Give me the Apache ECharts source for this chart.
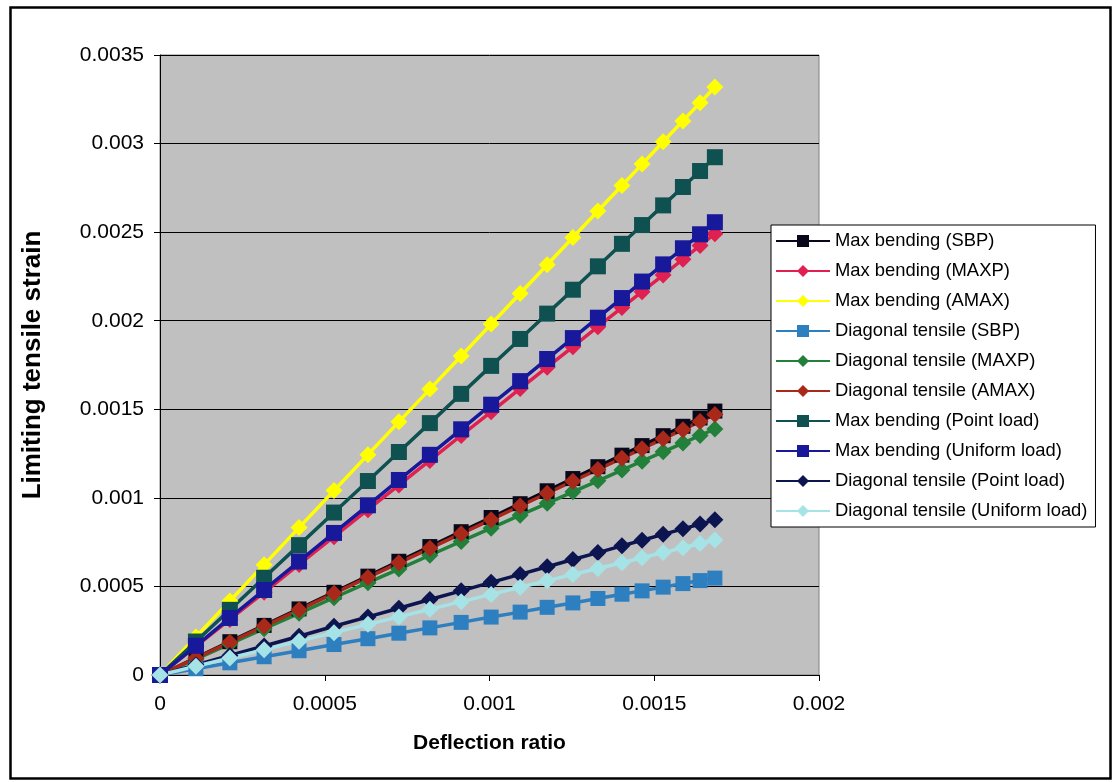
<!DOCTYPE html>
<html>
<head>
<meta charset="utf-8">
<script src="https://cdn.jsdelivr.net/npm/echarts@6/dist/echarts.min.js"></script>
<style>
  html, body { margin: 0; padding: 0; background: #ffffff; }
  #chart { width: 1113px; height: 782px; }
</style>
</head>
<body>
<div id="chart"></div>
<script>
// Deflection ratio at each computed point
const deflection = [0, 0.000109, 0.000212, 0.000316, 0.000422, 0.000528, 0.000631, 0.000725, 0.000819, 0.000914,
  0.001005, 0.001093, 0.001175, 0.001253, 0.001329, 0.001402, 0.001463, 0.001527, 0.001587, 0.001639, 0.001684];

// Limiting tensile strain for each criterion
const maxBendingSBP = [0, 0.0000965, 0.000188, 0.000280, 0.000373, 0.000467, 0.000558, 0.000642, 0.000725, 0.000809,
  0.000889, 0.000967, 0.001040, 0.001109, 0.001176, 0.001241, 0.001295, 0.001351, 0.001404, 0.001451, 0.001490];
const maxBendingMAXP = [0, 0.000161, 0.000314, 0.000467, 0.000624, 0.000781, 0.000933, 0.001072, 0.001211, 0.001352,
  0.001486, 0.001617, 0.001738, 0.001853, 0.001966, 0.002074, 0.002164, 0.002258, 0.002347, 0.002424, 0.002491];
const maxBendingAMAX = [0, 0.000215, 0.000418, 0.000623, 0.000832, 0.001041, 0.001244, 0.001429, 0.001614, 0.001801,
  0.001981, 0.002154, 0.002316, 0.002470, 0.002619, 0.002763, 0.002884, 0.003010, 0.003128, 0.003230, 0.003319];
const diagonalSBP = [0, 0.0000354, 0.0000689, 0.000103, 0.000137, 0.000172, 0.000205, 0.000236, 0.000266, 0.000297,
  0.000327, 0.000355, 0.000382, 0.000407, 0.000432, 0.000456, 0.000475, 0.000496, 0.000516, 0.000533, 0.000547];
const diagonalMAXP = [0, 0.0000899, 0.000175, 0.000261, 0.000348, 0.000436, 0.000521, 0.000598, 0.000676, 0.000754,
  0.000829, 0.000902, 0.000969, 0.001034, 0.001096, 0.001157, 0.001207, 0.001260, 0.001309, 0.001352, 0.001389];
const diagonalAMAX = [0, 0.0000952, 0.000185, 0.000276, 0.000368, 0.000461, 0.000551, 0.000633, 0.000715, 0.000798,
  0.000877, 0.000954, 0.001026, 0.001094, 0.001160, 0.001224, 0.001277, 0.001333, 0.001385, 0.001431, 0.001470];
const maxBendingPoint = [0, 0.000189, 0.000368, 0.000549, 0.000733, 0.000917, 0.001095, 0.001259, 0.001422, 0.001587,
  0.001745, 0.001897, 0.002040, 0.002175, 0.002307, 0.002434, 0.002540, 0.002651, 0.002755, 0.002845, 0.002923];
const maxBendingUniform = [0, 0.000165, 0.000322, 0.000480, 0.000641, 0.000802, 0.000958, 0.001101, 0.001243, 0.001387,
  0.001526, 0.001659, 0.001784, 0.001902, 0.002017, 0.002128, 0.002221, 0.002318, 0.002409, 0.002488, 0.002556];
const diagonalPoint = [0, 0.0000567, 0.000110, 0.000164, 0.000219, 0.000275, 0.000328, 0.000377, 0.000426, 0.000475,
  0.000523, 0.000568, 0.000611, 0.000652, 0.000691, 0.000729, 0.000761, 0.000794, 0.000825, 0.000852, 0.000876];
const diagonalUniform = [0, 0.0000493, 0.0000959, 0.000143, 0.000191, 0.000239, 0.000286, 0.000328, 0.000371, 0.000414,
  0.000455, 0.000495, 0.000532, 0.000567, 0.000601, 0.000634, 0.000662, 0.000691, 0.000718, 0.000742, 0.000762];

const seriesNames = [
  'Max bending (SBP)', 'Max bending (MAXP)', 'Max bending (AMAX)',
  'Diagonal tensile (SBP)', 'Diagonal tensile (MAXP)', 'Diagonal tensile (AMAX)',
  'Max bending (Point load)', 'Max bending (Uniform load)',
  'Diagonal tensile (Point load)', 'Diagonal tensile (Uniform load)'
];
const seriesValues = [
  maxBendingSBP, maxBendingMAXP, maxBendingAMAX,
  diagonalSBP, diagonalMAXP, diagonalAMAX,
  maxBendingPoint, maxBendingUniform,
  diagonalPoint, diagonalUniform
];

// Per-series look: colour and marker
const styles = [
  { color: '#08081a', symbol: 'rect', size: 15 },
  { color: '#e02050', symbol: 'diamond', size: 17 },
  { color: '#ffff00', symbol: 'diamond', size: 17 },
  { color: '#2e7fc0', symbol: 'rect', size: 15 },
  { color: '#22803a', symbol: 'diamond', size: 17 },
  { color: '#a8281a', symbol: 'diamond', size: 17 },
  { color: '#0f5050', symbol: 'rect', size: 16 },
  { color: '#18189a', symbol: 'rect', size: 16 },
  { color: '#0c1550', symbol: 'diamond', size: 17 },
  { color: '#a6e3e6', symbol: 'diamond', size: 17 }
];

const xTicks = { min: 0, max: 0.002, interval: 0.0005 };
const yTicks = { min: 0, max: 0.0035, interval: 0.0005 };

const fontFamily = '"Liberation Sans", Arial, sans-serif';
const fmt = v => String(+v.toFixed(5));

const chart = echarts.init(document.getElementById('chart'), null, { renderer: 'canvas' });

chart.setOption({
  backgroundColor: '#ffffff',
  animation: false,
  grid: {
    left: 160, right: 294, top: 55, bottom: 107,
    show: true,
    backgroundColor: '#c0c0c0',
    borderColor: '#808080',
    borderWidth: 1
  },
  legend: {
    orient: 'vertical',
    left: 771, top: 225,
    padding: [6, 8, 6, 4],
    itemGap: 10,
    itemWidth: 54,
    itemHeight: 15,
    backgroundColor: '#ffffff',
    borderColor: '#000000',
    borderWidth: 1,
    borderRadius: 0,
    textStyle: { fontFamily, fontSize: 18.4, color: '#000000', lineHeight: 20 },
    data: seriesNames
  },
  xAxis: {
    type: 'value',
    min: xTicks.min, max: xTicks.max, interval: xTicks.interval,
    name: 'Deflection ratio',
    nameLocation: 'middle',
    nameGap: 58,
    nameTextStyle: { fontFamily, fontSize: 21, fontWeight: 'bold', color: '#000000' },
    axisLine: { show: true, lineStyle: { color: '#000000', width: 1 } },
    axisTick: { show: true, inside: false, length: 6, lineStyle: { color: '#000000' } },
    axisLabel: { fontFamily, fontSize: 21, color: '#000000', margin: 19, formatter: fmt },
    splitLine: { show: false }
  },
  yAxis: {
    type: 'value',
    min: yTicks.min, max: yTicks.max, interval: yTicks.interval,
    name: 'Limiting tensile strain',
    nameLocation: 'middle',
    nameGap: 114,
    nameRotate: 90,
    nameTextStyle: { fontFamily, fontSize: 26, fontWeight: 'bold', color: '#000000' },
    axisLine: { show: true, lineStyle: { color: '#000000', width: 1 } },
    axisTick: { show: true, inside: false, length: 6, lineStyle: { color: '#000000' } },
    axisLabel: { fontFamily, fontSize: 21, color: '#000000', margin: 16, formatter: fmt },
    splitLine: { show: true, lineStyle: { color: '#000000', width: 1 } }
  },
  series: seriesNames.map((name, i) => ({
    name,
    type: 'line',
    data: deflection.map((x, k) => [x, seriesValues[i][k]]),
    symbol: styles[i].symbol,
    symbolSize: styles[i].size,
    showAllSymbol: true,
    lineStyle: { color: styles[i].color, width: 3.5 },
    itemStyle: { color: styles[i].color, borderWidth: 0 },
    emphasis: { disabled: true }
  })),
  graphic: [{
    type: 'rect',
    left: 8, top: 5,
    shape: { width: 1100, height: 771 },
    style: { fill: 'none', stroke: '#000000', lineWidth: 2.5 },
    silent: true,
    z: 100
  }]
});
</script>
</body>
</html>
